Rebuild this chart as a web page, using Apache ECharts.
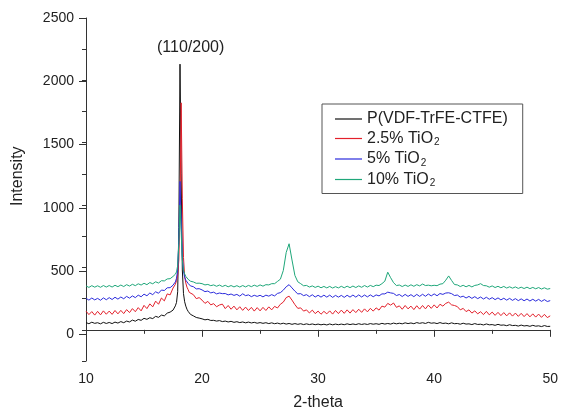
<!DOCTYPE html>
<html>
<head>
<meta charset="utf-8">
<script src="https://cdn.jsdelivr.net/npm/echarts@6/dist/echarts.min.js"></script>
<style>html,body{margin:0;padding:0;background:#fff}#c{width:561px;height:416px}</style>
</head>
<body>
<div id="c"></div>
<script>
const twoTheta = [
10,10.25,10.5,10.75,11,11.25,11.5,11.75,12,12.25,12.5,12.75,13,13.25,13.5,13.75,14,14.25,14.5,14.75,15,15.25,15.5,15.75,16,16.25,16.5,16.75,17,17.25,17.5,
17.6,17.7,17.8,17.9,18.0,18.1,18.2,18.3,18.4,18.5,18.6,18.7,18.8,18.9,19.0,
19.25,19.5,19.75,
20,20.25,20.5,20.75,21,21.25,21.5,21.75,22,22.25,22.5,22.75,23,23.25,23.5,23.75,24,24.25,24.5,24.75,
25,25.25,25.5,25.75,26,26.25,26.5,26.75,27,27.25,27.5,27.75,28,28.25,28.5,28.75,29,29.25,29.5,29.75,
30,30.25,30.5,30.75,31,31.25,31.5,31.75,32,32.25,32.5,32.75,33,33.25,33.5,33.75,34,34.25,34.5,34.75,
35,35.25,35.5,35.75,36,36.25,36.5,36.75,37,37.25,37.5,37.75,38,38.25,38.5,38.75,39,39.25,39.5,39.75,
40,40.25,40.5,40.75,41,41.25,41.5,41.75,42,42.25,42.5,42.75,43,43.25,43.5,43.75,44,44.25,44.5,44.75,
45,45.25,45.5,45.75,46,46.25,46.5,46.75,47,47.25,47.5,47.75,48,48.25,48.5,48.75,49,49.25,49.5,49.75,
50];

const pureY = [
58,49,61,52, 57,48,60,51, 59,50,62,54, 66,57,70,63, 78,69,83,76, 92,84,97,90, 108,100,118,112, 134,142,158,
172,192,220,305,820,2130,1250,480,290,225,190,165,148,135,124,
112,99,94,
88,80,84,75, 76,70,74,66, 70,63,68,60, 65,58,63,56, 62,55,60,53,
58,52,57,50, 56,49,54,47, 53,46,51,44, 50,44,49,42, 48,42,47,41,
46,40,45,39, 47,40,46,41, 46,41,48,42, 47,42,49,43, 48,43,50,45,
49,44,52,46, 51,46,54,48, 53,48,56,50, 55,49,58,52, 57,51,60,53,
56,50,58,51, 54,48,56,49, 51,45,53,46, 48,42,50,43, 45,39,47,40,
42,36,44,37, 39,33,41,34, 36,30,38,31, 34,28,36,29, 32,26,34,27,
28];

const tio25Y = [
150,122,146,118, 148,120,152,125, 150,124,155,128, 156,130,162,138, 170,145,178,152, 196,170,208,184, 230,205,255,232, 288,280,335,
350,365,395,440,560,950,1820,1050,580,430,375,342,322,300,295,
282,250,258,
238,212,228,200, 210,185,199,206, 170,195,165,190, 160,185,156,182, 155,180,150,178,
152,180,155,184, 160,188,175,205, 222,258,270,238, 202,172,176,150, 160,135,158,130,
150,125,148,128, 152,126,155,130, 158,132,160,134, 162,138,165,140, 168,144,172,150,
176,158,190,182, 212,198,215,180, 192,165,195,168, 190,162,193,166, 195,168,198,172,
200,175,205,190, 212,222,200,195, 186,160,172,146, 160,134,152,128, 145,122,148,120,
142,116,140,114, 138,112,136,110, 134,108,132,106, 130,104,128,102, 126,100,124,98,
112];

const tio5Y = [
253,238,255,240, 252,237,256,241, 258,243,261,246, 263,249,268,254, 272,258,278,265, 286,273,295,282, 305,293,319,315, 337,338,358,
368,384,414,480,720,1190,880,590,470,422,398,383,372,363,352,
346,328,330,
320,306,311,296, 302,288,295,290, 291,280,287,276, 284,270,289,274, 280,266,277,268,
277,264,278,270, 282,272,292,298, 318,345,362,336, 310,288,290,274, 282,266,281,263,
277,262,278,262, 278,260,276,262, 276,260,277,262, 279,262,280,263, 279,264,280,265,
280,272,288,288, 302,296,292,275, 283,267,284,268, 282,266,284,268, 285,269,287,272,
288,273,291,284, 295,297,290,275, 279,262,270,255, 268,252,266,250, 263,247,261,245,
258,242,256,240, 253,238,252,236, 250,234,248,233, 247,231,245,230, 244,228,242,227,
234];

const tio10Y = [
352,340,354,342, 353,341,355,343, 355,343,357,346, 359,347,362,351, 365,354,369,359, 373,362,379,369, 385,375,394,392, 408,410,428,
435,446,464,515,690,1000,780,560,480,448,428,414,405,397,390,
384,373,374,
370,360,364,354, 360,349,359,347, 357,345,355,344, 354,343,355,344, 356,346,358,348,
360,350,362,360, 370,370,388,406, 475,620,690,560, 436,385,370,353, 356,343,352,340,
350,337,348,336, 348,335,346,336, 349,337,350,338, 351,339,352,341, 355,343,356,346,
358,355,370,390, 462,418,378,355, 359,347,359,348, 361,349,362,352, 367,355,358,353,
357,354,366,370, 398,432,396,363, 360,347,357,345, 356,344,356,360, 370,355,353,342,
352,339,349,337, 348,335,345,334, 344,332,342,331, 342,330,340,329, 339,327,337,326,
331];

const seriesNames = ['P(VDF-TrFE-CTFE)', '2.5% TiO2', '5% TiO2', '10% TiO2'];
const seriesColors = ['#111111', '#e3202b', '#2b2bdc', '#1fa77a'];
const seriesValues = [pureY, tio25Y, tio5Y, tio10Y];
const yTicks = [0, 500, 1000, 1500, 2000, 2500];
const peakLabel = '(110/200)';

const chart = echarts.init(document.getElementById('c'), null, {renderer: 'canvas'});
const font = 'Liberation Sans, Arial, Helvetica, sans-serif';

const option = {
  backgroundColor: '#ffffff',
  animation: false,
  textStyle: {fontFamily: font, color: '#222'},
  grid: [
    {left: 86, right: 7, top: 18, bottom: 50},
    {left: 86, right: 7, top: 18, bottom: 81.64}
  ],
  xAxis: [
    {
      type: 'value', gridIndex: 0, min: 10, max: 50, interval: 10,
      name: '2-theta', nameLocation: 'middle', nameGap: 34,
      nameTextStyle: {fontSize: 16, color: '#222', fontFamily: font},
      axisLine: {show: true, lineStyle: {color: '#333', width: 1}},
      axisTick: {show: true, length: 7, inside: false, lineStyle: {color: '#333'}},
      minorTick: {show: true, splitNumber: 2, length: 4, lineStyle: {color: '#333'}},
      axisLabel: {fontSize: 14, color: '#222', margin: 11, fontFamily: font},
      splitLine: {show: false}
    },
    {
      type: 'value', gridIndex: 1, min: 10, max: 50, show: false
    }
  ],
  yAxis: [
    {
      type: 'value', gridIndex: 0, min: -250, max: 2500, interval: 250,
      axisLine: {show: true, lineStyle: {color: '#333', width: 1}},
      axisTick: {show: true, length: 4, inside: false, lineStyle: {color: '#333'}},
      axisLabel: {show: false},
      splitLine: {show: false}
    },
    {
      type: 'value', gridIndex: 1, min: yTicks[0], max: yTicks[yTicks.length - 1], interval: 500,
      name: 'Intensity', nameLocation: 'middle', nameGap: 60,
      nameTextStyle: {fontSize: 16, color: '#222', fontFamily: font},
      axisLine: {show: false},
      axisTick: {show: true, length: 7, inside: false, lineStyle: {color: '#333'}},
      axisLabel: {fontSize: 14, color: '#222', margin: 12, fontFamily: font,
        formatter: function (v) { return String(v); }},
      splitLine: {show: false}
    }
  ],
  legend: {
    orient: 'vertical', left: 322, top: 104,
    padding: [7, 15, 5, 13], itemGap: 3.5, itemWidth: 27, itemHeight: 1.2,
    icon: 'rect',
    borderColor: '#555', borderWidth: 1,
    data: seriesNames,
    formatter: function (name) {
      if (name.endsWith('TiO2')) return '{n|' + name.slice(0, -1) + '}{s|2}';
      return '{n|' + name + '}';
    },
    textStyle: {
      fontSize: 16, color: '#222', fontFamily: font,
      rich: {
        n: {fontSize: 16, color: '#222', lineHeight: 18, fontFamily: font},
        s: {fontSize: 10, color: '#222', lineHeight: 18, verticalAlign: 'bottom', padding: [6, 0, 0, 1], fontFamily: font}
      }
    }
  },
  graphic: [
    {type: 'text', left: 157, top: 40, style: {text: peakLabel, fontSize: 16, fill: '#222', fontFamily: font}}
  ],
  series: seriesNames.map(function (name, i) {
    return {
      name: name, type: 'line', xAxisIndex: 0, yAxisIndex: 0,
      data: twoTheta.map(function (x, j) { return [x, seriesValues[i][j]]; }),
      showSymbol: false, symbol: 'none',
      lineStyle: {color: seriesColors[i], width: 1},
      itemStyle: {color: seriesColors[i]},
      z: 2 + i
    };
  })
};
chart.setOption(option);
</script>
</body>
</html>
